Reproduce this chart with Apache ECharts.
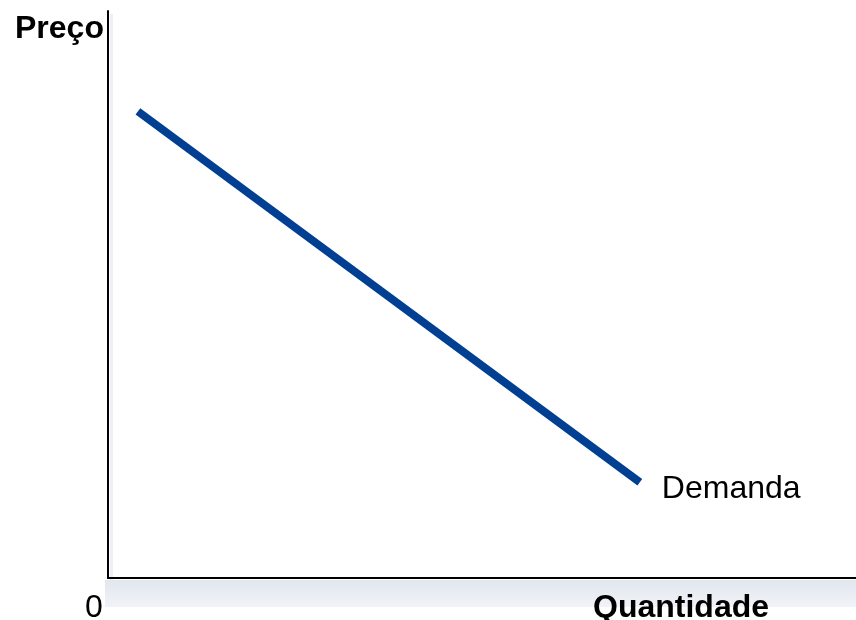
<!DOCTYPE html>
<html>
<head>
<meta charset="utf-8">
<script src="https://cdn.jsdelivr.net/npm/echarts@6/dist/echarts.min.js"></script>
<style>
  html, body { margin: 0; padding: 0; background: #fff; }
  #chart { width: 856px; height: 620px; }
</style>
</head>
<body>
<div id="chart"></div>
<script>
// demand curve, quantity (x) and price (y) on a 0..100 scale
const demandQty = [4.0, 71.1];
const demandPrice = [82.3, 16.9];
const seriesName = 'Demanda';
const yName = 'Preço';
const xName = 'Quantidade';
const originLabel = '0';

const chart = echarts.init(document.getElementById('chart'));
const font = '"Liberation Sans", Arial, sans-serif';

const option = {
    animation: false,
    grid: { left: 108, right: 0, top: 11, bottom: 42 },
    xAxis: {
        type: 'value', min: 0, max: 100,
        axisLine: { show: true, lineStyle: { color: '#000', width: 2 } },
        axisTick: { show: false },
        axisLabel: { show: false },
        splitLine: { show: false }
    },
    yAxis: {
        type: 'value', min: 0, max: 100,
        axisLine: { show: true, lineStyle: { color: '#000', width: 2 } },
        axisTick: { show: false },
        axisLabel: { show: false },
        splitLine: { show: false }
    },
    graphic: [
        // soft shadow under the axes
        {
            type: 'rect', z: 0, silent: true,
            shape: { x: 105, y: 580, width: 751, height: 27 },
            style: {
                fill: new echarts.graphic.LinearGradient(0, 0, 0, 1, [
                    { offset: 0, color: '#e2e6ee' },
                    { offset: 1, color: '#f1f3f7' }
                ])
            }
        },
        {
            type: 'rect', z: 0, silent: true,
            shape: { x: 110, y: 14, width: 3, height: 566 },
            style: { fill: '#eef0f5' }
        },
        {
            type: 'text', left: 15, top: 13,
            style: { text: yName, font: 'bold 32px ' + font, fill: '#000' }
        },
        {
            type: 'text', left: 85, top: 592,
            style: { text: originLabel, font: '32px ' + font, fill: '#000' }
        },
        {
            type: 'text', left: 593, top: 592,
            style: { text: xName, font: 'bold 32px ' + font, fill: '#000' }
        }
    ],
    series: [
        {
            name: seriesName,
            type: 'line',
            data: demandQty.map((q, i) => [q, demandPrice[i]]),
            symbol: 'none',
            lineStyle: { color: '#013f93', width: 8, cap: 'butt' },
            endLabel: {
                show: true,
                formatter: seriesName,
                distance: 22,
                offset: [0, 7],
                color: '#000',
                fontFamily: font,
                fontSize: 32
            }
        }
    ]
};

chart.setOption(option);
</script>
</body>
</html>
